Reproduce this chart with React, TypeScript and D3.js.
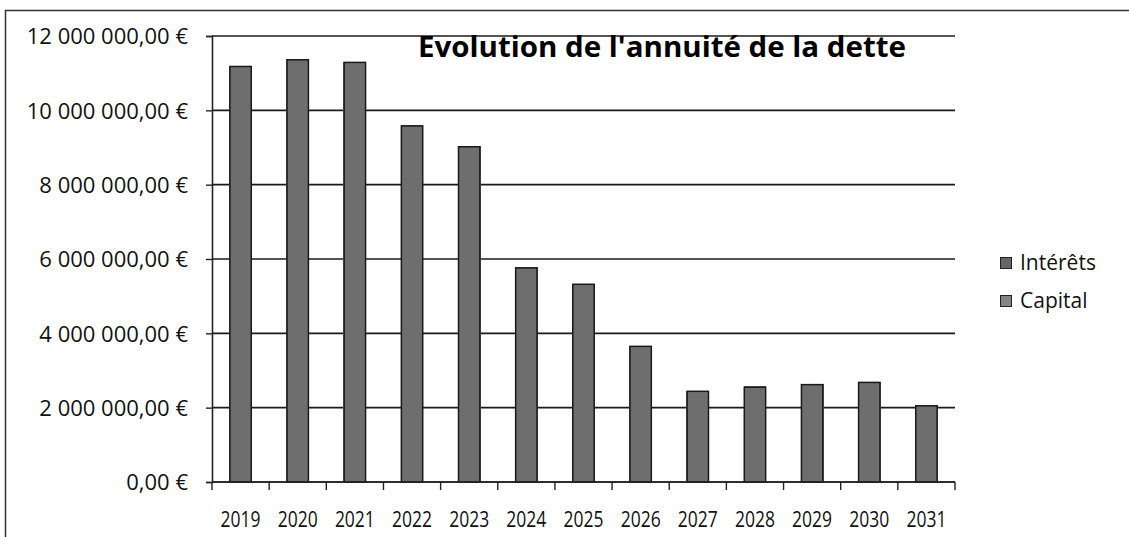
import * as d3 from "d3";
import { useEffect, useRef } from "react";

const annees = ["2019", "2020", "2021", "2022", "2023", "2024", "2025", "2026", "2027", "2028", "2029", "2030", "2031"];
// split between interest and capital is not readable (same shade) - estimated
const interets = [1900000, 1750000, 1550000, 1300000, 1100000, 900000, 750000, 600000, 500000, 450000, 380000, 300000, 220000];
const capital = [9300000, 9630000, 9760000, 8300000, 7940000, 4880000, 4590000, 3070000, 1960000, 2120000, 2260000, 2400000, 1850000];
const yTicks = [0, 2000000, 4000000, 6000000, 8000000, 10000000, 12000000];
const seriesNames = ["Intérêts", "Capital"];

const W = 1129;
const H = 537;
const FONT = "'Open Sans', sans-serif";

const fmtEuro = (v: number) => {
  const [ent, dec] = v.toFixed(2).split(".");
  return ent.replace(/\B(?=(\d{3})+(?!\d))/g, " ") + "," + dec + " €";
};

const App = () => {
  const ref = useRef<SVGSVGElement>(null);

  useEffect(() => {
    const svg = d3.select(ref.current);
    svg.selectAll("*").remove();

    const left = 212, right = 955, top = 36, bottom = 482;

    // frame of the chart area
    svg.append("path")
      .attr("d", `M5.5,${H} V10.5 H${W}`)
      .attr("fill", "none")
      .attr("stroke", "#333")
      .attr("stroke-width", 1.5);

    const y = d3.scaleLinear().domain([0, 12000000]).range([bottom, top]);
    const xCat = d3.scaleBand().domain(annees).range([left, right]).padding(0);
    const xBar = d3.scaleBand().domain(annees).range([left, right]).paddingInner(0.6).paddingOuter(0.3);

    // gridlines
    svg.append("g")
      .selectAll("line")
      .data(yTicks)
      .join("line")
      .attr("x1", left)
      .attr("x2", right)
      .attr("y1", (d) => y(d))
      .attr("y2", (d) => y(d))
      .attr("stroke", "#1a1a1a")
      .attr("stroke-width", 1.6);

    // stacked bars (both series share the same grey)
    const rows = annees.map((a, i) => ({ annee: a, Capital: capital[i], Intérêts: interets[i] }));
    const stack = d3.stack<any>().keys(["Capital", "Intérêts"])(rows);
    svg.append("g")
      .attr("shape-rendering", "crispEdges")
      .selectAll("g")
      .data(stack)
      .join("g")
      .selectAll("rect")
      .data((s) => s)
      .join("rect")
      .attr("x", (d: any) => xBar(d.data.annee)!)
      .attr("width", xBar.bandwidth())
      .attr("y", (d) => Math.round(y(d[1])))
      .attr("height", (d) => Math.round(y(d[0])) - Math.round(y(d[1])))
      .attr("fill", "#6e6e6e");

    // bar outline over whole stack
    svg.append("g")
      .selectAll("rect")
      .data(rows)
      .join("rect")
      .attr("x", (d) => xBar(d.annee)! + 0.75)
      .attr("width", xBar.bandwidth() - 1.5)
      .attr("y", (d) => y(d.Capital + d.Intérêts) + 0.75)
      .attr("height", (d) => bottom - y(d.Capital + d.Intérêts) - 0.75)
      .attr("fill", "none")
      .attr("stroke", "#1a1a1a")
      .attr("stroke-width", 1.5);

    // y axis
    const yAxis = svg.append("g")
      .attr("transform", `translate(${left},0)`)
      .call(d3.axisLeft(y).tickValues(yTicks).tickSize(6).tickFormat((d) => fmtEuro(+d)));
    yAxis.select(".domain").attr("stroke", "#222").attr("stroke-width", 1.6);
    yAxis.selectAll(".tick line").attr("stroke", "#222").attr("stroke-width", 1.4);
    yAxis.selectAll(".tick text")
      .attr("x", -24)
      .attr("dy", "0.35em")
      .style("font-family", FONT)
      .style("font-size", "22px")
      .attr("fill", "#111");

    // x axis
    const xAxis = svg.append("g").attr("transform", `translate(0,${bottom})`);
    xAxis.append("line")
      .attr("x1", left).attr("x2", right)
      .attr("stroke", "#222").attr("stroke-width", 1.6);
    xAxis.selectAll("line.tk")
      .data([...annees.map((a) => xCat(a)!), right])
      .join("line")
      .attr("class", "tk")
      .attr("x1", (d) => d).attr("x2", (d) => d)
      .attr("y1", 0).attr("y2", 8)
      .attr("stroke", "#222").attr("stroke-width", 1.4);
    xAxis.selectAll("text")
      .data(annees)
      .join("text")
      .attr("x", (d) => xCat(d)! + xCat.bandwidth() / 2)
      .attr("y", 45)
      .attr("text-anchor", "middle")
      .attr("textLength", 40)
      .attr("lengthAdjust", "spacingAndGlyphs")
      .style("font-family", FONT)
      .style("font-size", "22px")
      .attr("fill", "#111")
      .text((d) => d);

    // title
    svg.append("text")
      .attr("x", 418)
      .attr("y", 57)
      .attr("textLength", 488)
      .attr("lengthAdjust", "spacingAndGlyphs")
      .style("font-family", FONT)
      .style("font-size", "28px")
      .style("font-weight", "bold")
      .attr("fill", "#000")
      .text("Evolution de l'annuité de la dette");

    // legend
    const leg = svg.append("g").attr("transform", "translate(1000,263)");
    const item = leg.selectAll("g")
      .data(seriesNames)
      .join("g")
      .attr("transform", (_d, i) => `translate(0,${i * 38})`);
    item.append("rect")
      .attr("x", 0.5).attr("y", -5.5)
      .attr("width", 11).attr("height", 11)
      .attr("fill", (_d, i) => (i === 0 ? "#666" : "#858585"))
      .attr("stroke", "#222");
    item.append("text")
      .attr("x", 20)
      .attr("dy", "0.35em")
      .style("font-family", FONT)
      .style("font-size", "21px")
      .attr("fill", "#111")
      .text((d) => d);
  }, []);

  return <svg ref={ref} width={W} height={H} style={{ position: "absolute", left: 0, top: 0, background: "#fff" }} />;
};

export default App;
